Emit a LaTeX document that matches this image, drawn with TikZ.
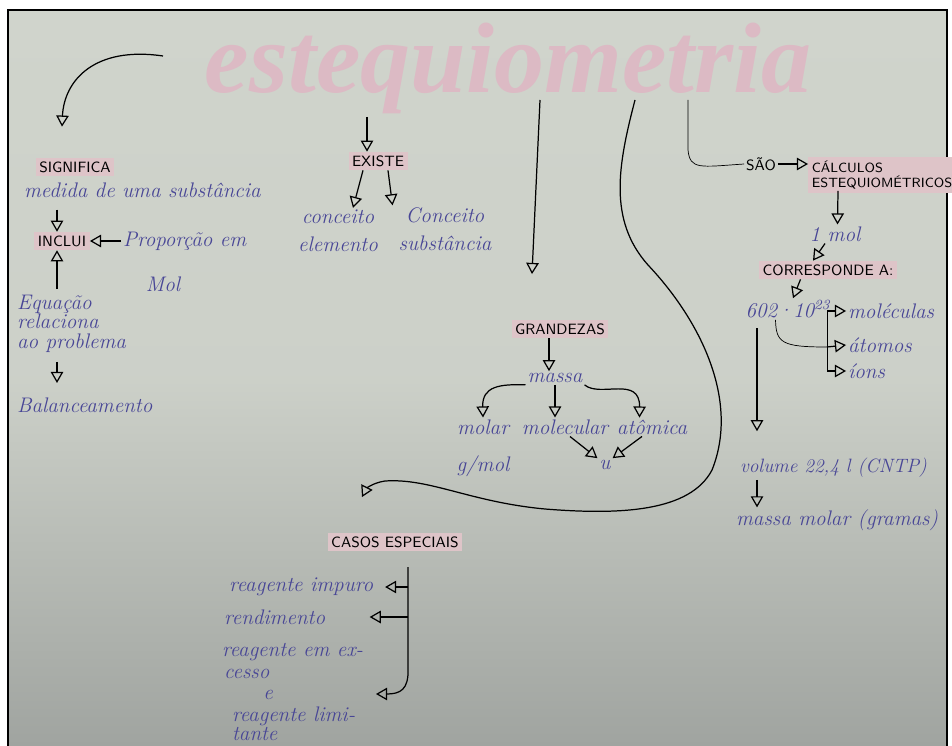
\documentclass[tikz,border=0pt]{standalone}
\usepackage{fontspec}
\usepackage{tikz}
\usetikzlibrary{arrows,positioning,shadings}

\newfontfamily\fonteTitulo{Liberation Serif}
\definecolor{papel}{RGB}{208,212,204}
\definecolor{papelfundo}{RGB}{160,164,160}
\definecolor{tinta}{RGB}{72,70,150}
\definecolor{marca}{RGB}{222,196,200}
\definecolor{rosa}{RGB}{220,186,196}

\begin{document}
\begin{tikzpicture}[x=0.02cm, y=-0.02cm,
		seta/.style={-open triangle 60, line width=0.7pt},
		rotulo/.style={fill=marca, inner sep=2pt, font=\sffamily\fontsize{8.5}{9}\selectfont},
		texto/.style={text=tinta, inner sep=1pt, font=\itshape\fontsize{12}{12}\selectfont},
		titulo/.style={text=rosa, font=\fonteTitulo\bfseries\itshape\fontsize{57}{57}\selectfont}]
		
		\useasboundingbox (0,0) rectangle (952,746);
		\fill[white] (0,0) rectangle (952,746);
		\shade[top color=papel, bottom color=papelfundo, middle color=papel!92!papelfundo] (8,10) rectangle (947,746);
		\draw[line width=1.2pt] (8,746) -- (8,10) -- (947,10) -- (947,746);
		
		\node[titulo] (titulo) at (508,68) {estequiometria};
		
		%% lado esquerdo
		\node[rotulo] (significa) at (75,167) {SIGNIFICA};
		\node[texto, anchor=west] (medida) at (22,190) {medida de uma substância};
		\node[rotulo] (inclui) at (62,241) {INCLUI};
		\node[texto, anchor=west] (proporcao) at (121,241) {Proporção em};
		\node[texto] (mol) at (163,284) {Mol};
		\node[texto, anchor=north west, align=left, font=\itshape\fontsize{12}{11}\selectfont] (equacao) at (15,293) {Equação\\relaciona\\ao problema};
		\node[texto, anchor=west] (balanc) at (15,405) {Balanceamento};
		
		\coordinate (inicio1) at (163,56);
		\draw[seta] (inicio1) .. controls (95,46) and (64,80) .. ([yshift=0.62cm]significa.north -| 62,0);
		\draw[seta] ([yshift=-0.2cm]medida.south -| 57,0) -- (inclui.north -| 57,0);
		\draw[seta] (proporcao.west) -- (inclui.east);
		\draw[seta] (equacao.north -| 57,0) ++(0,-4) -- (inclui.south -| 57,0);
		\draw[seta] ([yshift=-0.15cm]equacao.south -| 57,0) -- ([yshift=0.25cm]balanc.north -| 57,0);
		
		%% existe
		\node[rotulo] (existe) at (378,161) {EXISTE};
		\node[texto, align=center, font=\itshape\fontsize{12}{16}\selectfont] (conc1) at (338,231) {conceito\\elemento};
		\node[texto, align=center, font=\itshape\fontsize{12}{16}\selectfont] (conc2) at (445,229) {Conceito\\substância};
		\coordinate (inicio2) at (367,117);
		\draw[seta] (inicio2) -- (inicio2 |- existe.north);
		\draw[seta] ([xshift=-0.3cm]existe.south) -- ([xshift=0.3cm]conc1.north);
		\draw[seta] ([xshift=0.2cm]existe.south) -- ([xshift=-1.05cm]conc2.north);
		
		%% grandezas
		\node[rotulo] (grandezas) at (560,329) {GRANDEZAS};
		\node[texto] (massa) at (555,378) {massa};
		\node[texto] (molar) at (483,427) {molar};
		\node[texto] (molecular) at (565,427) {molecular};
		\node[texto] (atomica) at (652,427) {atômica};
		\node[texto] (gmol) at (483,466) {g/mol};
		\node[texto] (u) at (605,465) {u};
		\coordinate (inicio3) at (540,100);
		\coordinate (fim3) at (532,274);
		\draw[seta] (inicio3) -- (fim3);
		\draw[seta] (grandezas.south -| 549,0) -- (massa.north -| 549,0);
		\draw[seta] (massa.south west) .. controls (500,384) and (482,386) .. (molar.north);
		\draw[seta] (massa.south) -- (massa.south |- molecular.north);
		\draw[seta] (massa.south east) .. controls (600,398) and (640,375) .. ([xshift=-0.25cm]atomica.north);
		\draw[seta] ([xshift=0.1cm]molecular.south) -- (u.north west);
		\draw[seta] ([xshift=-0.2cm]atomica.south) -- (u.north east);
		
		%% curva grande
		\coordinate (inicio4) at (635,100);
		\coordinate (fim4) at (362,497);
		\draw[seta] (inicio4) .. controls (618,165) and (608,220) .. (648,265)
			.. controls (700,320) and (740,400) .. (712,470)
			.. controls (690,512) and (620,515) .. (545,509)
			.. controls (470,502) and (430,478) .. (385,481)
			.. controls (372,483) and (366,489) .. (fim4);
		
		%% casos especiais
		\node[rotulo] (casos) at (395,542) {CASOS ESPECIAIS};
		\node[texto, anchor=west] (impuro) at (227,587) {reagente impuro};
		\node[texto, anchor=west] (rendimento) at (222,617) {rendimento};
		\node[texto, anchor=west] (excesso) at (220,652) {reagente em ex-};
		\node[texto, anchor=west] (cesso) at (222,674) {cesso};
		\node[texto] (e) at (268,695) {e};
		\node[texto, anchor=west] (limi) at (230,716) {reagente limi-};
		\node[texto, anchor=west] (tante) at (230,734) {tante};
		\coordinate (chave2) at (408,567);
		\coordinate (fim7) at (376,694);
		\draw[seta] (chave2) -- (408,668) .. controls (409,690) and (400,694) .. (fim7);
		\draw[seta] (chave2 |- impuro) -- ([xshift=0.2cm]impuro.east);
		\draw[seta] (chave2 |- rendimento) -- ([xshift=0.85cm]rendimento.east);
		
		%% lado direito
		\node[texto, text=black, font=\sffamily\fontsize{8.5}{9}\selectfont] (sao) at (761,164) {SÃO};
		\node[rotulo, anchor=west, align=left, font=\sffamily\fontsize{7.6}{8.5}\selectfont] (calculos) at (808,175) {CÁLCULOS\\ESTEQUIOMÉTRICOS};
		\node[texto] (umol) at (835,234) {1 mol};
		\node[rotulo] (corresp) at (828,270) {CORRESPONDE A:};
		\node[texto] (numero) at (788,309) {602·10\textsuperscript{23}};
		\node[texto, anchor=west] (moleculas) at (846,311) {moléculas};
		\node[texto, anchor=west] (atomos) at (846,345) {átomos};
		\node[texto, anchor=west] (ions) at (846,371) {íons};
		\node[texto, anchor=west, font=\itshape\fontsize{11}{12}\selectfont] (volume) at (738,468) {volume 22,4 l (CNTP)};
		\node[texto, anchor=west] (massamolar) at (734,520) {massa molar (gramas)};
		\coordinate (inicio5) at (688,100);
		\draw (inicio5) -- (688,150) .. controls (690,170) and (700,167) .. (sao.west);
		\draw[seta] (sao.east) -- (calculos.west |- sao);
		\draw[seta] ([xshift=0.6cm]calculos.south west) ++(0,-2) -- ([xshift=0.05cm]umol.north);
		\draw[seta] ([xshift=-0.2cm]umol.south) -- ([xshift=-0.3cm]corresp.north);
		\draw[seta] ([xshift=-0.55cm]corresp.south) -- ([xshift=0.1cm]numero.north);
		\coordinate (chave1) at (827,347);
		\draw ([xshift=-0.25cm]numero.south) .. controls (776,343) and (782,347) .. (chave1);
		\draw (chave1 |- moleculas) -- (chave1 |- ions);
		\draw[seta] (chave1 |- moleculas) -- (moleculas.west);
		\draw[seta] (chave1) -- (atomos.west);
		\draw[seta] (chave1 |- ions) -- (ions.west);
		\coordinate (inicio6) at (757,328);
		\draw[seta] (inicio6) -- ([yshift=0.5cm]inicio6 |- volume.north);
		\draw[seta] (volume.south -| 757,0) -- (massamolar.north -| 757,0);
	\end{tikzpicture}
\end{document}
